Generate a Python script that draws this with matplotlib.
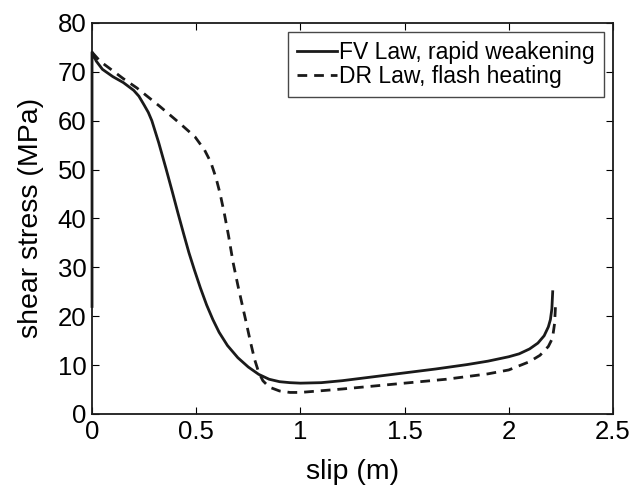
import numpy as np
import matplotlib.pyplot as plt

plt.rcParams['font.family'] = ['Liberation Sans', 'DejaVu Sans']

# ===== data =====
fv_slip = [0.0, 0.0, 0.02, 0.05, 0.1, 0.15, 0.2, 0.225, 0.25, 0.27, 0.287,
           0.32, 0.355, 0.385, 0.413, 0.44, 0.465, 0.491, 0.52, 0.55, 0.58,
           0.61, 0.65, 0.7, 0.75, 0.8, 0.85, 0.9, 0.95, 1.0, 1.1, 1.2, 1.35,
           1.5, 1.65, 1.8, 1.9, 2.0, 2.05, 2.1, 2.14, 2.17, 2.19, 2.2, 2.207,
           2.211]
fv_stress = [22.0, 74.0, 72.2, 70.5, 69.0, 67.8, 66.2, 65.0, 63.2, 61.7, 60.0,
             55.5, 50.2, 45.5, 41.0, 36.8, 33.0, 29.5, 25.8, 22.3, 19.3, 16.7,
             14.0, 11.5, 9.6, 8.1, 7.1, 6.6, 6.4, 6.3, 6.4, 6.8, 7.6, 8.4, 9.2,
             10.1, 10.8, 11.7, 12.3, 13.3, 14.5, 16.0, 17.8, 19.3, 21.5, 25.0]

dr_slip = [0.0, 0.04, 0.1, 0.15, 0.215, 0.326, 0.42, 0.494, 0.54, 0.57, 0.595,
           0.615, 0.635, 0.655, 0.677, 0.7, 0.72, 0.74, 0.76, 0.78, 0.8, 0.82,
           0.85, 0.9, 0.95, 1.0, 1.2, 1.5, 1.7, 1.9, 2.0, 2.1, 2.15, 2.19, 2.21,
           2.22, 2.225]
dr_stress = [74.0, 72.1, 70.2, 68.6, 66.7, 62.9, 59.5, 56.7, 54.0, 51.5, 48.3,
             45.0, 41.0, 36.5, 31.0, 26.3, 22.5, 18.7, 14.8, 11.2, 8.5, 6.8,
             5.5, 4.7, 4.4, 4.4, 5.1, 6.3, 7.1, 8.2, 9.0, 10.7, 12.0, 13.8, 15.5,
             18.5, 22.5]

fig = plt.figure(figsize=(6.36, 4.87), dpi=100)
ax = fig.add_axes([0.1447, 0.15, 0.819, 0.803])

ax.plot(fv_slip, fv_stress, color='#1a1a1a', lw=2.0, ls='-',
        label='FV Law, rapid weakening', clip_on=False)
ax.plot(dr_slip, dr_stress, color='#1a1a1a', lw=2.0, ls=(0, (3.5, 2.5)),
        label='DR Law, flash heating', clip_on=False)

ax.set_xlim(0, 2.5)
ax.set_ylim(0, 80)
ax.set_xticks([0, 0.5, 1, 1.5, 2, 2.5])
ax.set_xticklabels(['0', '0.5', '1', '1.5', '2', '2.5'])
ax.set_yticks(range(0, 81, 10))

ax.tick_params(direction='in', top=True, right=True, length=5, width=0.8,
               labelsize=18.5, pad=4)
for s in ax.spines.values():
    s.set_linewidth(1.3)
    s.set_color('#1a1a1a')

ax.set_xlabel('slip (m)', fontsize=20.5, labelpad=11)
ax.set_ylabel('shear stress (MPa)', fontsize=20.5, labelpad=10)

leg = ax.legend(loc='upper right', fontsize=16.5, frameon=True, fancybox=False,
                edgecolor='#1a1a1a', handlelength=1.75, handletextpad=0.1,
                borderpad=0.38, labelspacing=0.05, borderaxespad=0.4)
leg.get_frame().set_linewidth(1.0)

fig.savefig('out.png', dpi=100)
